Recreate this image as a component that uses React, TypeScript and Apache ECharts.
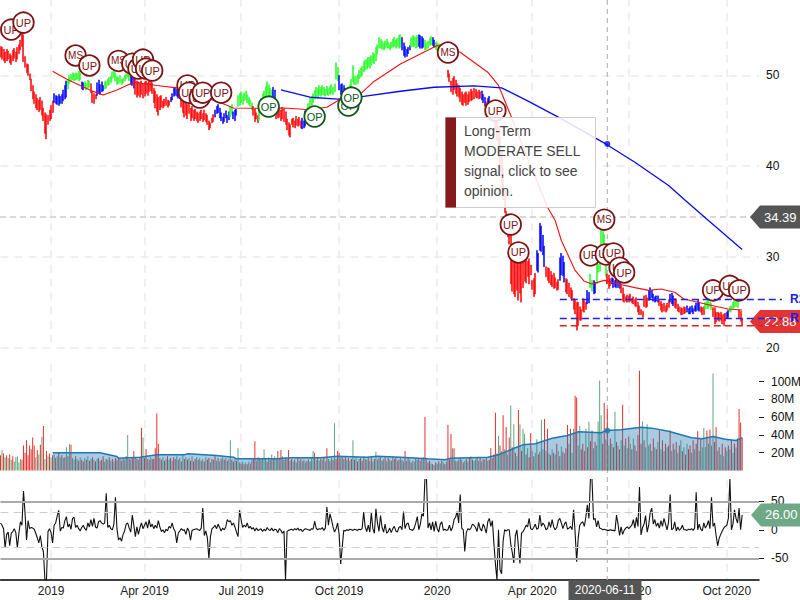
import React, { useEffect, useRef } from "react";
import * as echarts from "echarts";

const holidays = ["2018-11-22","2018-12-05","2018-12-25","2019-01-01","2019-01-21","2019-02-18","2019-04-19","2019-05-27","2019-07-04","2019-09-02","2019-11-28","2019-12-25","2020-01-01","2020-01-20","2020-02-17","2020-04-10","2020-05-25","2020-07-03","2020-09-07","2020-11-26"];
const firstDate = "2018-11-12";
const categoryCount = 496;
const quarterStarts = ["2019-01-02","2019-04-01","2019-07-01","2019-10-01","2020-01-02","2020-04-01","2020-07-01","2020-10-01"];
const quarterLabels = ["2019","Apr 2019","Jul 2019","Oct 2019","2020","Apr 2020","Jul 2020","Oct 2020"];
const crossDate = "2020-06-11";
const crossPrice = 34.39;
const lastPrice = 22.88;
const lastOsc = 26;
const priceTicks = [20, 30, 40, 50];
const volumeTicks = [20, 40, 60, 80, 100];
const oscTicks = [-50, 0, 50];

const priceHigh = [
53.2,53.1,52.9,52.6,52.9,52.7,52.4,52.2,52.8,53.0,
52.6,53.1,53.4,53.9,54.6,54.5,52.1,51.3,51.2,50.2,
49.6,48.9,48.2,47.9,47.5,47.3,47.6,47.2,46.4,45.9,
45.7,45.6,46.2,46.7,47.2,48.0,47.8,47.7,47.9,47.7,
47.9,48.4,48.9,49.4,49.6,50.0,50.1,50.3,50.2,50.3,
50.2,50.5,50.3,49.3,49.2,49.3,49.1,49.5,49.4,49.1,
48.2,48.0,47.9,49.2,49.5,49.0,49.3,48.9,49.3,49.4,
49.6,49.8,49.9,50.4,50.6,50.3,49.9,49.8,50.0,49.6,
49.7,50.0,50.2,50.5,50.3,50.1,50.0,49.8,49.6,49.4,
49.3,49.2,49.4,49.1,49.3,49.4,49.2,49.4,49.5,49.2,
48.6,48.3,47.9,47.6,47.7,47.8,47.2,47.4,47.6,47.3,
47.2,47.6,48.0,48.6,48.7,48.5,48.3,48.1,47.6,47.8,
47.4,47.2,46.8,46.9,46.4,46.6,46.2,46.3,46.0,45.8,
46.0,46.2,45.8,46.2,45.8,45.6,45.0,44.8,45.3,45.7,
46.2,46.6,46.8,46.4,45.9,45.4,45.8,46.1,45.6,46.0,
46.6,46.8,46.0,46.2,46.3,47.8,48.0,48.2,47.7,48.1,
48.3,47.9,47.6,47.3,47.0,46.6,46.3,45.9,45.6,46.4,
47.5,48.0,48.3,48.8,49.3,49.0,48.6,48.4,48.7,48.4,
46.2,46.4,46.5,46.2,46.5,46.3,46.0,45.2,44.8,44.6,
45.2,45.3,45.0,45.5,45.2,45.4,45.0,45.3,45.0,46.1,
46.4,46.9,47.5,47.7,48.0,48.4,48.7,48.6,48.9,48.7,
48.9,48.7,48.5,48.8,48.6,48.8,49.0,48.7,49.1,51.4,
50.9,50.0,49.0,49.1,48.9,48.6,48.5,48.7,49.0,49.6,
51.1,49.9,49.9,50.1,50.6,50.8,51.0,51.5,51.7,51.8,
52.0,52.0,52.2,52.5,52.4,53.1,53.4,54.2,54.0,53.8,
53.6,53.8,54.0,53.7,53.5,53.7,54.0,54.2,53.9,54.1,
54.4,54.5,54.2,53.6,53.2,52.9,53.1,53.3,54.2,54.4,
54.3,54.2,54.4,54.5,54.4,54.3,54.1,53.9,53.6,53.8,
54.1,54.3,54.2,53.9,53.7,53.6,53.5,53.4,53.3,53.2,
53.1,52.9,50.6,50.2,49.4,49.7,49.9,49.5,49.1,48.9,
48.6,48.2,47.9,48.1,48.2,47.9,48.2,48.5,48.3,48.6,
48.5,48.2,48.4,48.2,48.3,47.9,47.6,47.1,47.5,47.7,
47.0,46.6,46.2,45.7,45.2,44.4,43.2,41.6,39.8,37.6,
35.0,34.6,33.9,33.0,30.2,30.0,30.1,29.9,29.7,30.0,
30.0,29.4,29.6,30.0,29.5,29.8,29.1,27.4,27.6,28.2,
30.7,30.4,33.7,33.4,32.4,31.2,28.9,28.8,28.7,28.4,
28.0,28.2,27.7,27.2,27.5,29.9,30.4,30.1,29.4,27.6,
27.5,27.1,26.6,26.3,25.4,25.2,25.0,25.0,24.5,24.2,
25.4,25.2,25.0,26.3,26.1,28.1,27.4,27.4,27.2,29.2,
29.2,29.5,33.0,32.8,32.5,29.0,28.1,28.0,27.6,27.7,
27.6,27.4,27.5,27.3,27.2,26.9,26.6,25.9,25.6,25.8,
25.7,25.9,25.4,25.6,25.3,25.5,25.0,24.6,24.2,24.0,
25.7,25.8,25.5,26.3,26.6,26.3,25.9,25.6,25.7,25.7,
25.2,25.1,24.8,24.9,24.6,24.9,25.3,25.9,26.0,25.7,
25.4,25.2,24.8,24.5,24.4,24.3,24.5,24.4,24.6,24.3,
24.5,24.6,24.3,24.6,24.9,25.2,25.0,24.5,24.4,24.5,
25.0,25.1,25.2,25.0,24.9,24.4,24.4,23.9,23.9,23.8,
23.9,23.6,23.7,23.8,23.9,24.1,24.5,24.6,25.0,25.2,
25.3,25.2,24.2,24.0,23.2,
];
const priceLow = [
52.0,51.8,51.6,51.4,51.6,51.8,51.4,51.2,51.6,51.9,
51.5,51.8,52.4,52.8,53.2,51.5,50.9,50.3,50.0,49.5,
48.3,47.4,46.9,46.4,46.2,46.0,46.2,45.6,45.0,43.6,
43.0,44.6,45.0,45.2,45.9,47.0,46.9,46.8,46.7,46.9,
46.9,47.2,47.4,47.6,48.5,49.1,49.3,49.5,49.4,49.5,
49.6,49.4,49.5,48.5,48.4,48.6,48.4,48.6,48.7,48.1,
47.0,46.9,47.4,47.8,48.0,47.9,48.2,48.3,48.5,48.6,
48.9,49.0,49.2,49.6,49.8,49.4,49.0,49.1,49.2,49.0,
49.2,49.4,49.6,49.8,49.4,49.0,48.9,48.6,47.9,47.6,
47.8,47.6,47.9,47.5,47.7,48.0,47.8,48.2,48.3,48.0,
47.0,46.4,46.0,45.6,46.2,46.5,46.4,46.6,46.7,46.5,
46.7,47.1,47.3,47.7,47.8,47.7,47.5,47.4,46.5,45.9,
45.4,45.6,45.2,45.8,45.0,45.3,45.0,45.2,45.0,44.8,
45.0,45.2,44.9,45.1,44.9,44.6,44.0,44.2,44.8,44.9,
45.4,45.8,45.9,45.3,45.0,44.7,44.9,45.3,44.8,45.1,
45.4,45.7,45.2,45.0,45.6,46.6,46.7,47.0,46.8,47.2,
47.3,47.0,46.8,46.6,46.2,45.6,44.9,45.2,44.8,45.0,
47.0,47.1,47.3,47.6,47.9,47.8,47.7,47.5,47.4,47.5,
45.2,45.3,45.4,45.0,45.2,44.9,44.6,44.0,43.4,43.2,
44.6,44.3,44.2,44.5,44.4,44.5,44.2,44.1,44.2,44.4,
45.8,45.7,45.9,46.6,47.0,47.4,47.6,47.5,47.8,47.7,
47.9,47.8,47.7,47.9,47.8,47.9,48.0,47.9,48.2,49.6,
49.4,48.4,47.9,47.6,47.7,47.8,47.6,47.7,48.1,48.7,
49.3,49.0,49.0,49.1,49.6,49.8,50.0,50.4,50.6,50.7,
50.9,50.8,51.1,51.4,51.3,51.6,52.3,53.0,53.0,52.9,
52.8,53.0,53.1,53.0,52.8,53.0,53.1,53.2,53.0,53.2,
53.0,53.1,52.8,52.2,52.0,52.1,52.4,52.8,53.1,53.2,
53.2,53.0,53.1,53.2,53.0,53.0,53.1,52.8,52.9,53.0,
53.3,53.4,53.3,53.1,52.9,52.8,52.7,52.6,52.5,52.4,
52.3,52.1,49.8,49.3,48.2,47.9,48.4,48.0,47.7,47.6,
47.1,46.8,46.7,47.0,46.7,46.8,47.1,47.2,47.3,47.4,
47.6,47.5,47.4,47.5,47.3,47.0,46.6,46.2,46.7,46.8,
45.9,45.2,45.0,44.0,42.8,41.0,38.9,37.4,36.3,34.9,
33.4,32.2,31.4,27.0,26.2,25.9,25.6,26.3,25.2,26.0,
25.0,26.6,27.3,27.1,27.8,27.0,28.0,26.4,25.6,25.9,
28.5,28.3,30.7,30.6,30.2,28.9,27.8,27.4,27.1,26.9,
26.7,26.5,26.6,26.3,26.4,27.4,28.0,27.9,27.2,26.1,
25.9,25.6,25.4,25.2,24.2,23.7,21.9,22.4,23.0,23.0,
24.0,23.9,24.2,24.8,24.9,26.6,26.2,25.9,26.0,27.0,
28.3,28.4,30.7,30.6,30.7,27.8,27.0,26.5,26.8,27.0,
26.6,26.7,26.6,26.6,26.5,26.0,25.1,25.0,25.1,25.0,
25.0,25.1,24.9,24.8,24.6,24.5,23.9,23.6,23.6,23.3,
24.5,24.4,24.5,25.2,25.3,25.5,25.1,25.0,25.1,25.0,
24.6,24.1,23.9,24.0,23.9,24.1,24.4,25.0,24.8,24.6,
24.4,24.3,24.0,23.9,23.6,23.6,23.7,23.8,23.9,23.7,
23.7,23.9,23.7,24.0,24.0,24.1,24.0,23.9,23.6,23.6,
24.2,24.3,24.3,24.5,24.2,23.4,22.6,22.8,23.0,22.9,
23.0,22.6,22.4,22.9,23.2,23.3,23.9,24.0,24.3,24.4,
24.5,24.4,23.3,22.9,22.4,
];
const priceColorRuns: [string, number][] = [["r",35],["b",9],["g",9],["b",2],["g",4],["r",4],["b",5],["g",17],["b",3],["r",23],["b",7],["r",22],["b",10],["g",2],["b",3],["g",10],["r",4],["g",9],["b",2],["r",17],["b",3],["g",21],["b",5],["g",36],["b",6],["g",5],["b",4],["g",5],["b",2],["g",8],["r",22],["b",3],["r",1],["b",2],["r",30],["b",6],["r",9],["b",4],["r",14],["b",2],["g",2],["b",2],["g",7],["r",3],["b",6],["r",18],["b",7],["r",7],["b",3],["r",8],["b",9],["r",3],["g",5],["r",9],["b",2],["g",6],["r",3]];

const ma50Points = [[34,50.46],[43,49.62],[52,48.9],[59,48.33],[67,47.85],[76,48.41],[87,49.25],[102,48.89],[115,48.63],[130,47.78],[143,47.05],[152,46.42],[165,46.39],[185,46.42],[200,46.24],[213,46.5],[222,47.41],[235,47.97],[243,49.25],[261,51.27],[272,52.2],[285,53.3],[300,52.56],[318,50.36],[325,48.9],[333,45.58],[342,41.7],[349,38.8],[357,35.47],[362,34.0],[366,31.8],[375,28.5],[381,27.3],[386,27.0],[394,27.4],[403,27.0],[414,26.6],[423,26.3],[431,26.46],[440,26.1],[446,25.35],[460,24.8],[468,24.5],[475,24.25],[484,24.14]];
const ma200Points = [[183,48.4],[202,47.6],[220,47.4],[237,47.7],[261,48.26],[283,48.7],[309,48.85],[327,48.63],[344,47.2],[364,45.4],[395,42.45],[414,40.43],[436,37.86],[447,36.2],[462,34.0],[484,30.8]];
const ma200Cross = 42.45;

const volumes = [
17,23,19,15,17,14,18,12,16,10,
15,16,9,13,12,28,20,34,17,28,
24,37,28,15,23,18,29,38,50,13,
22,16,19,15,17,18,14,16,20,15,
17,14,15,26,16,30,29,14,12,16,
13,11,15,12,10,14,12,16,11,13,
15,12,10,13,14,11,12,16,10,13,
12,15,11,13,10,14,12,15,13,11,
13,12,16,40,13,12,14,22,15,13,
12,15,48,37,14,24,13,12,15,13,
13,25,64,30,14,12,15,11,13,16,
12,14,11,15,13,16,12,14,10,17,
13,15,12,14,11,16,10,13,15,12,
14,11,13,10,15,12,14,9,13,12,
16,11,14,10,13,15,12,14,11,13,
34,12,10,13,11,25,9,8,10,7,
9,7,10,8,12,14,33,11,15,13,
12,14,24,13,10,15,12,18,13,16,
13,22,14,23,16,12,15,13,23,11,
13,10,12,9,14,11,13,10,12,9,
11,13,10,14,22,20,12,15,11,13,
12,15,10,25,13,11,14,12,53,13,
22,20,14,16,13,15,12,14,11,13,
34,12,15,10,13,14,11,16,13,12,
14,11,15,10,13,21,12,14,16,11,
13,15,10,14,12,11,16,13,15,11,
12,14,12,10,22,11,15,12,9,11,
10,13,12,14,11,13,15,60,12,9,
11,8,7,6,9,7,10,8,11,9,
7,10,51,12,41,25,25,11,10,12,
15,12,9,11,13,10,14,16,12,11,
12,14,11,15,10,13,12,14,11,12,
25,14,18,65,20,39,28,22,62,24,
49,18,37,73,26,52,20,16,68,52,
22,47,41,18,25,15,42,22,16,20,
35,18,21,57,24,58,22,47,19,17,
24,20,18,30,22,16,27,21,19,25,
51,30,47,20,47,84,82,28,50,24,
30,22,47,26,55,33,45,25,32,28,
55,101,62,30,76,35,69,28,36,30,
26,66,32,28,24,34,74,28,36,25,
38,30,24,36,28,22,40,112,30,55,
34,26,52,28,30,22,36,26,24,32,
45,24,34,22,30,26,28,45,22,30,
24,32,20,28,34,22,26,18,30,24,
28,20,34,24,30,44,22,36,26,48,
26,45,30,46,28,109,32,49,22,26,
18,30,16,26,22,28,24,34,20,30,
26,36,69,54,37,
];
const volumeColors = [
"rgrgrgrgrg","ggggrrrrrr","rrrgrgrgrg","rgrgrgrgrg","rgrgrgrggr","grgrrgrgrg","rgrgrgrrgr","grgrgrrgrg","rgrgrgrrgr","grrgrrgrgr",
"rrrrgrgrgr","grgrrgrgrg","rgrgrgrrgr","grgrgrrgrg","rgrgrgrgrg","grrgrggrgr","grgrgrrgrg","rgggrgrgrg","grgrgrgrrg","rgrgrgrgrg",
"rgrggrgrgr","grgrgrgrgr","rrgrgrgrgr","grgrgrrgrg","rgrgrggrgr","grgrgrgrrg","rgrgrgrgrg","grgrgrgrgr","rgrgrgrgrg","rgrrrgrgrg",
"rgrgrgrgrg","grgrgrgrgr","rgrrggrgrg","rgrgrgrgrg","rggrgrrgrg","grrggrgrgr","grgrgrgrgr","rgrggrrggr","rrgrgrrgrg","gggrrgrgrg",
"rgrgrgrgrg","rgrgrgrrrg","rgggrgrgrg","rgrgrgrrgr","grgrgrgrgr","rgrgrrgrgg","grgrggrrgr","grgrgrgrgr","grrrr",
].join("");
const volumeMaPoints = [[34,19.9],[65,19.9],[76,15.7],[77,13.9],[91,15],[102,17.6],[120,17.6],[122,18.7],[141,16.9],[152,15],[154,13.1],[180,13.1],[189,14.2],[209,14.2],[220,16.1],[239,15],[246,16.1],[261,15],[279,13.1],[290,12],[294,13.9],[318,15],[325,17.6],[336,25.5],[341,28.8],[349,30],[360,36.3],[370,39.3],[377,43.4],[392,42.3],[395,44.9],[405,45.7],[418,48.7],[425,47.6],[436,44.2],[451,36.7],[458,35.6],[465,38.2],[473,35.2],[480,33.7],[484,36.7]];
const volumeMaCross = 44.9;

const oscillator = [
12,8,2,-32,-8,-4,-28,-6,-3,2,
-5,-32,-6,14,8,68,30,-18,16,2,
4,3,1,-6,-14,-23,-10,-30,-38,-88,
-88,-3,2,-5,-23,8,12,24,34,-2,
4,3,16,23,5,10,1,20,22,4,
8,2,-2,4,8,2,-1,12,5,18,
6,20,5,3,14,16,12,10,12,64,
4,8,2,0,10,57,2,-18,-14,-20,
-8,-2,10,12,3,-4,26,8,-12,5,
-8,4,12,2,8,14,3,18,5,10,
2,8,3,16,5,-3,0,-5,1,-2,
6,3,12,2,-3,-23,-6,-2,2,-1,
0,-8,3,-2,-18,-1,0,1,2,0,
-1,3,38,-10,-2,-14,-51,-12,2,4,
8,2,10,4,-2,3,0,5,18,14,
16,8,12,5,-4,-12,34,18,4,8,
5,12,3,6,1,4,-2,3,-1,0,
2,-3,1,-2,4,0,-1,3,-2,1,
0,-5,2,-1,-6,-2,-88,-3,-1,0,
1,-1,2,0,3,-1,1,-3,0,2,
1,0,-1,2,1,15,3,0,2,1,
4,-1,3,40,8,28,18,5,-4,2,
12,-8,-60,-30,-1,-2,0,-1,1,0,
-1,1,0,-1,1,0,2,31,5,-3,
8,-4,30,2,-6,37,12,-3,25,4,
-4,10,-6,-3,3,-5,2,6,-2,-4,
4,6,0,32,2,10,12,1,0,-1,
3,12,23,0,10,28,24,90,90,3,
12,0,14,-3,15,2,-4,10,14,-1,
1,-1,0,8,-2,4,18,22,32,12,
62,3,0,-38,-5,2,0,3,10,8,
4,-3,13,2,-2,10,4,-6,14,20,
6,16,-24,-60,-88,0,-70,-77,-20,0,
-2,0,0,-25,-40,-58,-10,0,-30,-59,
-6,-3,2,8,5,20,2,0,4,10,
1,3,26,6,12,8,0,2,14,4,
18,5,0,4,16,20,12,2,10,14,
1,3,6,0,35,-5,-56,-15,8,12,
14,6,22,44,20,90,90,18,20,5,
16,3,2,0,1,0,-1,-1,0,-1,
-1,-2,26,10,-10,5,-8,-1,3,5,
2,5,8,18,3,22,6,75,-9,4,
10,25,-4,8,30,38,10,18,6,12,
3,16,6,20,10,0,14,62,0,2,
14,-2,5,-1,2,8,0,0,-1,1,
0,2,-1,3,66,0,10,1,-2,12,
3,8,16,2,57,6,12,-10,-28,-15,
-8,-2,3,6,8,20,90,0,10,35,
20,12,38,0,26,
];
const oscSolidLevels = [50, -50];
const oscDashLevels = [30, -30];

const markerLabels = ["UP","UP","MS","UP","MS","UP","UP","UP","UP","UP","UP","UP","UP","UP","UP","OP","OP","OP","OP","MS","UP","UP","UP","UP","MS","UP","UP","UP","UP","UP","UP","UP"];
const markerIndex = [7,15,49,58,77,86,90,93,95,99,122,123,130,132,144,175,205,227,229,292,323,333,338,385,394,395,400,404,407,465,476,482];
const markerPrice = [55.06,55.83,52.2,51.1,51.6,51.3,50.76,51.75,50.76,50.54,48.9,48.1,47.56,48.1,48.1,46.57,45.47,46.68,47.56,52.53,46.13,33.56,30.48,30.15,34.1,30.26,30.37,28.8,28.27,26.3,26.8,26.3];

const levelNames = ["R2","R1","S1"];
const levelValues = [25.3,23.2,22.4];
const levelColors = ["#2222dd","#2222dd","#dd2222"];
const levelStart = 365;

const tooltipLines = ["Long-Term","MODERATE SELL","signal, click to see","opinion."];

function tradingDates(): string[] {
  const out: string[] = [];
  const d = new Date(firstDate + "T00:00:00Z");
  while (out.length < categoryCount) {
    const s = d.toISOString().slice(0, 10);
    const wd = d.getUTCDay();
    if (wd !== 0 && wd !== 6 && !holidays.includes(s)) out.push(s);
    d.setUTCDate(d.getUTCDate() + 1);
  }
  return out;
}

const FONT = '"Liberation Sans", Arial, sans-serif';
const paint: Record<string, string> = { r: "#ff0000", g: "#22ff22", b: "#0000ff" };

export default function App() {
  const ref = useRef<HTMLDivElement>(null);
  useEffect(() => {
    const chart = echarts.init(ref.current!, null, { renderer: "svg" });
    const dates = tradingDates();
    const qIdx = quarterStarts.map((q) => dates.indexOf(q));
    const showQ = (i: number) => qIdx.includes(i);
    const qText = (v: string) => {
      const k = quarterStarts.indexOf(v);
      return k < 0 ? "" : quarterLabels[k];
    };
    const crossIdx = dates.indexOf(crossDate);
    const colors: string[] = [];
    priceColorRuns.forEach(([c, n]) => { for (let i = 0; i < n; i++) colors.push(c); });

    const gridDash = { color: "#ebebeb", type: [8, 6] as any, width: 1.5 };
    const xAxisBase = (gridIndex: number) => ({
      type: "category" as const,
      gridIndex,
      data: dates,
      boundaryGap: false,
      axisLine: { show: false, onZero: false },
      axisTick: { show: false },
      axisLabel: { show: false },
      splitLine: { show: true, interval: showQ as any, lineStyle: gridDash },
    });

    const markerSeries = markerLabels.map((label, i) => {
      const dark = label === "OP" ? "#14561c" : "#7b1416";
      return {
        type: "scatter" as const,
        xAxisIndex: 0,
        yAxisIndex: 0,
        z: 20 + i,
        symbol: "circle",
        symbolSize: 20.5,
        silent: true,
        clip: false,
        itemStyle: { color: "#fff", borderColor: dark, borderWidth: 1.8, opacity: 1 },
        label: { show: true, position: "inside" as const, formatter: label, color: dark, fontSize: label === "MS" ? 10 : 11, fontFamily: FONT },
        data: [[markerIndex[i], markerPrice[i]]],
      };
    });

    const option: any = {
      animation: false,
      backgroundColor: "#fff",
      grid: [
        { left: 0.5, width: 758.5, top: -15.2, height: 362.7, outerBoundsMode: "none" },
        { left: 0.5, width: 758.5, top: 363.7, height: 106.8, outerBoundsMode: "none" },
        { left: 0.5, width: 758.5, top: 479.6, height: 100.4, outerBoundsMode: "none" },
      ],
      xAxis: [
        xAxisBase(0),
        xAxisBase(1),
        {
          ...xAxisBase(2),
          axisLine: { show: true, onZero: false, lineStyle: { color: "#000", width: 1.5 } },
          axisLabel: { show: true, interval: showQ as any, formatter: qText, color: "#222", fontSize: 12, fontFamily: FONT, margin: 5, hideOverlap: false },
        },
      ],
      yAxis: [
        {
          type: "value", gridIndex: 0, position: "right", min: 20, max: 60, interval: 10,
          axisLine: { show: false }, axisTick: { show: false },
          axisLabel: { customValues: priceTicks, color: "#111", fontSize: 12, fontFamily: FONT, margin: 7 },
          splitLine: { show: true, lineStyle: gridDash },
        },
        {
          type: "value", gridIndex: 1, position: "right", min: 0, max: 120,
          axisLine: { show: false },
          axisTick: { show: true, length: 5, customValues: volumeTicks, lineStyle: { color: "#222" } },
          axisLabel: { customValues: volumeTicks, formatter: (v: number) => v + "M", color: "#111", fontSize: 12, fontFamily: FONT, margin: 12 },
          splitLine: { show: false },
        },
        {
          type: "value", gridIndex: 2, position: "right", min: -88, max: 88,
          axisLine: { show: false },
          axisTick: { show: true, length: 5, customValues: oscTicks, lineStyle: { color: "#222" } },
          axisLabel: { customValues: oscTicks, color: "#111", fontSize: 12, fontFamily: FONT, margin: 12 },
          splitLine: { show: false },
        },
      ],
      series: [
        {
          type: "candlestick", xAxisIndex: 0, yAxisIndex: 0, z: 3, barWidth: 1.5, silent: true,
          data: priceLow.map((lo, i) => {
            const c = paint[colors[i]] || paint.r;
            return { value: [lo, priceHigh[i], lo, priceHigh[i]], itemStyle: { color: c, color0: c, borderColor: c, borderColor0: c, borderWidth: 0.5 } };
          }),
        },
        { type: "line", xAxisIndex: 0, yAxisIndex: 0, z: 4, data: ma50Points, showSymbol: false, symbol: "none", silent: true, lineStyle: { color: "#f01010", width: 1.1 } },
        { type: "line", xAxisIndex: 0, yAxisIndex: 0, z: 4, data: ma200Points, showSymbol: false, symbol: "none", silent: true, lineStyle: { color: "#0a0af0", width: 1.3 } },
        { type: "scatter", xAxisIndex: 0, yAxisIndex: 0, z: 5, symbol: "circle", symbolSize: 6, silent: true, itemStyle: { color: "#0a0af0" }, data: [[crossIdx, ma200Cross]] },
        ...markerSeries,
        {
          type: "bar", xAxisIndex: 1, yAxisIndex: 1, z: 2, barWidth: 1, silent: true,
          data: volumes.map((v, i) => ({ value: v, itemStyle: { color: volumeColors[i] === "g" ? "#5fa57e" : "#e8302a" } })),
        },
        {
          type: "line", xAxisIndex: 1, yAxisIndex: 1, z: 3, data: volumeMaPoints, showSymbol: false, symbol: "none", silent: true,
          lineStyle: { color: "#1f77b4", width: 1.5 }, areaStyle: { color: "rgba(31,119,180,0.55)" },
        },
        { type: "scatter", xAxisIndex: 1, yAxisIndex: 1, z: 5, symbol: "circle", symbolSize: 6, silent: true, itemStyle: { color: "#1f77b4" }, data: [[crossIdx, volumeMaCross]] },
        {
          type: "line", xAxisIndex: 2, yAxisIndex: 2, z: 4, data: oscillator, showSymbol: false, symbol: "none", silent: true,
          lineStyle: { color: "#111", width: 1.1 },
          markLine: {
            silent: true, symbol: "none", label: { show: false }, animation: false,
            data: [
              ...oscSolidLevels.map((y) => ({ yAxis: y, lineStyle: { color: "#aaa", type: "solid", width: 2 } })),
              ...oscDashLevels.map((y) => ({ yAxis: y, lineStyle: { color: "#ccc", type: [8, 5], width: 1 } })),
            ],
          },
        },
      ],
    };
    chart.setOption(option);

    const X = (i: number) => chart.convertToPixel({ xAxisIndex: 0 }, i) as number;
    const Y = (v: number) => chart.convertToPixel({ yAxisIndex: 0 }, v) as number;
    const YO = (v: number) => chart.convertToPixel({ yAxisIndex: 2 }, v) as number;
    const cx = X(crossIdx);
    const yCross = Y(crossPrice);
    const yLast = Y(lastPrice);
    const yOsc = YO(lastOsc);
    const tag = (y: number, left: number, fill: string, text: string, z: number): any[] => [
      { type: "polygon", z, silent: true, shape: { points: [[left, y], [left + 10, y - 11.5], [800, y - 11.5], [800, y + 11.5], [left + 10, y + 11.5]] }, style: { fill } },
      { type: "text", z: z + 1, silent: true, style: { x: left + 14, y, text, fill: "#fff", font: `13px ${FONT}`, verticalAlign: "middle", align: "left" } },
    ];
    const graphics: any[] = [
      { type: "line", z: 1, silent: true, shape: { x1: cx, y1: 0, x2: cx, y2: 580 }, style: { stroke: "#aaa", lineWidth: 1, lineDash: [5, 4] } },
      { type: "line", z: 1, silent: true, shape: { x1: 0, y1: yCross, x2: 752, y2: yCross }, style: { stroke: "#ccc", lineWidth: 1.5, lineDash: [6, 4] } },
      ...tag(yCross, 750, "#555555", String(crossPrice), 60),
      ...tag(yLast, 750, "#e23434", String(lastPrice), 60),
      ...tag(yOsc, 751, "#6fa887", lastOsc.toFixed(2), 60),
      ...levelNames.flatMap((name, i) => [
        { type: "line", z: 70, silent: true, shape: { x1: X(levelStart), y1: Y(levelValues[i]), x2: 782, y2: Y(levelValues[i]) }, style: { stroke: levelColors[i], lineWidth: 1.5, lineDash: [7, 4] } },
        { type: "text", z: i === 2 ? 59 : 71, silent: true, style: { x: 790, y: Y(levelValues[i]), text: name, fill: levelColors[i], font: `bold 12px ${FONT}`, verticalAlign: "middle" } },
      ]),
      { type: "rect", z: 80, silent: true, shape: { x: 568.5, y: 580, width: 73, height: 20 }, style: { fill: "#555555" } },
      { type: "text", z: 81, silent: true, style: { x: 605, y: 590, text: crossDate, fill: "#fff", font: `12px ${FONT}`, align: "center", verticalAlign: "middle" } },
      { type: "rect", z: 90, silent: true, shape: { x: 445.5, y: 117.5, width: 150, height: 90 }, style: { fill: "rgba(255,255,255,0.87)", stroke: "#cccccc", lineWidth: 1 } },
      { type: "rect", z: 91, silent: true, shape: { x: 445.5, y: 117.5, width: 10.5, height: 90 }, style: { fill: "#85191c" } },
      ...tooltipLines.map((t, i) => ({ type: "text", z: 92, silent: true, style: { x: 464, y: 131 + i * 20, text: t, fill: "#444", font: `14px ${FONT}`, verticalAlign: "middle" } })),
    ];
    chart.setOption({ graphic: graphics });
    return () => chart.dispose();
  }, []);
  return <div ref={ref} style={{ position: "fixed", left: 0, top: 0, width: 800, height: 600 }} />;
}
